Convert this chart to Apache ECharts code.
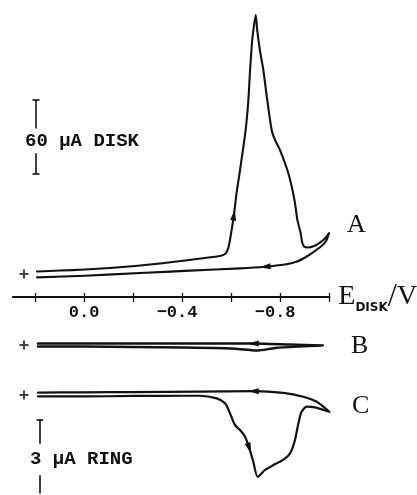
<!DOCTYPE html>
<html>
<head>
<meta charset="utf-8">
<script src="https://cdn.jsdelivr.net/npm/echarts@6/dist/echarts.min.js"></script>
<style>
  html, body { margin: 0; padding: 0; background: #fff; }
  #chart { width: 417px; height: 495px; }
</style>
</head>
<body>
<div id="chart"></div>
<script>
// ---- Potential axis (V). The scan runs from +0.2 V to -1.0 V and back.
const E_TICKS = [0.2, 0.0, -0.2, -0.4, -0.6, -0.8, -1.0];
const E_LABELS = [0.0, -0.4, -0.8];
const E_MIN = -1.0;
const E_MAX = 0.29;

// ---- Trace A: disk current (µA), [E, I] in scan order
const scanA = [
  [0.192, 2.0], [0.098, 2.8], [-0.004, 3.6], [-0.106, 4.9], [-0.208, 6.5],
  [-0.310, 8.5], [-0.412, 11.0], [-0.493, 13.0], [-0.554, 14.6], [-0.575, 16.2],
  [-0.587, 20.3], [-0.595, 27.6], [-0.603, 37.3], [-0.611, 47.8], [-0.622, 65.7],
  [-0.636, 84.3], [-0.659, 116.8], [-0.670, 141.1], [-0.677, 165.4], [-0.684, 185.7],
  [-0.689, 195.4], [-0.700, 210.0], [-0.706, 197.8], [-0.717, 181.6], [-0.731, 165.4],
  [-0.747, 141.1], [-0.765, 116.8], [-0.779, 108.6], [-0.799, 100.5], [-0.829, 84.3],
  [-0.847, 70.8], [-0.860, 57.6], [-0.870, 43.8], [-0.883, 33.2], [-0.889, 25.9],
  [-0.897, 22.3], [-0.913, 21.5], [-0.938, 22.7], [-0.962, 25.5], [-0.982, 28.8],
  [-0.999, 33.2],
  // reverse scan
  [-0.987, 26.8], [-0.966, 22.3], [-0.938, 18.2], [-0.905, 13.8], [-0.868, 10.1],
  [-0.819, 7.7], [-0.738, 5.9], [-0.636, 4.6], [-0.432, 2.7], [-0.228, 0.8],
  [-0.004, -1.4], [0.192, -2.7]
];
const arrowsA = [13, 47];

// ---- Trace B: disk current (µA)
const scanB = [
  [0.188, -1.2], [0.0, -1.2], [-0.2, -1.6], [-0.4, -2.0], [-0.6, -2.8],
  [-0.677, -4.1], [-0.705, -4.5], [-0.779, -2.4], [-0.88, -1.2], [-0.974, -0.4],
  // reverse scan
  [-0.974, 0.0], [-0.84, 0.4], [-0.69, 1.2], [-0.4, 1.2], [-0.2, 1.2],
  [0.0, 1.2], [0.188, 1.2]
];
const arrowsB = [12];

// ---- Trace C: ring current (µA)
const scanC = [
  [0.188, -0.06], [0.0, -0.06], [-0.2, -0.04], [-0.4, -0.03], [-0.473, -0.03],
  [-0.541, -0.14], [-0.575, -0.34], [-0.595, -0.75], [-0.615, -1.23], [-0.636, -1.44],
  [-0.656, -1.71], [-0.674, -2.19], [-0.690, -2.74], [-0.708, -3.36], [-0.738, -3.08],
  [-0.772, -2.88], [-0.812, -2.67], [-0.840, -2.40], [-0.860, -1.85], [-0.874, -1.16],
  [-0.887, -0.69], [-0.908, -0.48], [-0.942, -0.51], [-0.969, -0.59], [-1.0, -0.69],
  // reverse scan
  [-0.949, -0.28], [-0.894, -0.07], [-0.812, 0.09], [-0.690, 0.16], [-0.473, 0.14],
  [-0.2, 0.12], [0.0, 0.11], [0.188, 0.10]
];
const arrowsC = [11, 28];

// ---- Scale bars (µA) and zero-current marks
const DISK_SCALE = 60;
const RING_SCALE = 3;
const ZERO_MARK_E = 0.245;

// ---- Layout (pixels)
const W = 417;
const X_AT_02 = 35, PX_PER_V = 245.25;
const gridLeft = X_AT_02 - (E_MAX - 0.2) * PX_PER_V;
const gridRight = W - (X_AT_02 + (0.2 - E_MIN) * PX_PER_V);
const K_DISK = 74 / DISK_SCALE;   // px per µA (disk)
const K_RING = 73 / RING_SCALE;   // px per µA (ring)

function band(top, bottom, zeroY, k) {
  return { top: top, height: bottom - top, min: -(bottom - zeroY) / k, max: (zeroY - top) / k };
}
const bandA = band(2, 297, 274, K_DISK);
const bandB = band(325, 365, 345, K_DISK);
const bandC = band(368, 495, 395, K_RING);

const INK = '#111';

function gridBox(b) {
  return { left: gridLeft, right: gridRight, top: b.top, height: b.height,
           containLabel: false, outerBoundsMode: 'none' };
}
function hiddenX(gi) {
  return { type: 'value', gridIndex: gi, inverse: true, min: E_MIN, max: E_MAX, show: false };
}
function hiddenY(gi, b) {
  return { type: 'value', gridIndex: gi, min: b.min, max: b.max, show: false };
}

// I-shaped scale bar, broken in the middle for its caption
function scaleBar(E, top, bottom, gapTop, gapBottom, serif, bottomSerif) {
  const segs = [
    [{ coord: [E + serif, top] }, { coord: [E - serif, top] }],
    [{ coord: [E, top] }, { coord: [E, gapTop] }],
    [{ coord: [E, gapBottom] }, { coord: [E, bottom] }]
  ];
  if (bottomSerif) segs.push([{ coord: [E + serif, bottom] }, { coord: [E - serif, bottom] }]);
  return {
    silent: true, symbol: ['none', 'none'], label: { show: false },
    emphasis: { disabled: true }, animation: false,
    lineStyle: { color: INK, width: 1.6, type: 'solid' },
    data: segs
  };
}

// small "+" marking zero current for each trace
const plusPath = 'path://M0,3.1H8V4.9H0Z M3.1,0H4.9V8H3.1Z';

function traceSeries(data, xi, yi, width) {
  return {
    type: 'line', xAxisIndex: xi, yAxisIndex: yi, data: data.slice(),
    symbol: 'none', showSymbol: true, clip: false, smooth: 0.25,
    lineStyle: { color: INK, width: width, join: 'round', cap: 'round' },
    itemStyle: { color: INK }, emphasis: { disabled: true }, silent: true
  };
}

const chart = echarts.init(document.getElementById('chart'), null, { renderer: 'canvas' });

const option = {
  animation: false,
  backgroundColor: '#fff',
  grid: [gridBox(bandA), gridBox(bandB), gridBox(bandC)],
  xAxis: [
    {
      type: 'value', gridIndex: 0, inverse: true, min: E_MIN, max: E_MAX, position: 'bottom',
      axisLine: { show: true, onZero: false, lineStyle: { color: INK, width: 2 } },
      axisTick: { show: true, customValues: E_TICKS, inside: false, length: 5, lineStyle: { color: INK, width: 1.3 } },
      axisLabel: {
        show: true, customValues: E_LABELS, margin: 7,
        fontFamily: 'Liberation Mono', fontSize: 17, fontWeight: 'bold', color: INK,
        formatter: function (v) {
          return Math.abs(v) < 1e-9 ? '0.0' : '\u2212' + Math.abs(v).toFixed(1) + ' ';
        }
      },
      splitLine: { show: false },
      // the axis runs reversed, so its "start" is the right-hand (most negative) end
      name: '{e|E}{d|DISK}{s|/}{v|V}',
      nameLocation: 'start', nameGap: 9,
      nameTextStyle: {
        color: INK, align: 'left', verticalAlign: 'middle',
        rich: {
          e: { fontFamily: 'Liberation Serif', fontSize: 28, color: INK },
          d: { fontFamily: 'DejaVu Sans', fontWeight: 'bold', fontSize: 12, color: INK, verticalAlign: 'bottom' },
          s: { fontFamily: 'Liberation Serif', fontSize: 33, color: INK },
          v: { fontFamily: 'Liberation Serif', fontSize: 28, color: INK }
        }
      }
    },
    {
      type: 'value', gridIndex: 0, inverse: true, min: E_MIN, max: E_MAX, position: 'bottom',
      axisLine: { show: false, onZero: false },
      axisTick: { show: true, customValues: E_TICKS, inside: true, length: 4, lineStyle: { color: INK, width: 1.3 } },
      axisLabel: { show: false },
      splitLine: { show: false }
    },
    hiddenX(1),
    hiddenX(2)
  ],
  yAxis: [hiddenY(0, bandA), hiddenY(1, bandB), hiddenY(2, bandC)],
  graphic: [
    { type: 'text', left: 25, top: 132, silent: true,
      style: { text: '60 \u00b5A DISK', font: 'bold 19px "Liberation Mono"', fill: INK } },
    { type: 'text', left: 30, top: 449.5, silent: true,
      style: { text: '3 \u00b5A RING', font: 'bold 19px "Liberation Mono"', fill: INK } },
    { type: 'text', left: 347, top: 212, silent: true,
      style: { text: 'A', font: '26px "Liberation Serif"', fill: INK } },
    { type: 'text', left: 351, top: 333, silent: true,
      style: { text: 'B', font: '26px "Liberation Serif"', fill: INK } },
    { type: 'text', left: 352, top: 393, silent: true,
      style: { text: 'C', font: '26px "Liberation Serif"', fill: INK } }
  ],
  series: [
    traceSeries(scanA, 0, 0, 2.1),
    traceSeries(scanB, 2, 1, 2.4),
    traceSeries(scanC, 3, 2, 2.2),
    { // zero-current mark and disk scale bar
      type: 'scatter', xAxisIndex: 0, yAxisIndex: 0, data: [[ZERO_MARK_E, 0]],
      symbol: plusPath, symbolSize: 9, itemStyle: { color: INK }, silent: true,
      markLine: scaleBar(0.196, 141.1, 141.1 - DISK_SCALE, 118, 98, 0.0143, true)
    },
    { type: 'scatter', xAxisIndex: 2, yAxisIndex: 1, data: [[ZERO_MARK_E, 0]],
      symbol: plusPath, symbolSize: 9, itemStyle: { color: INK }, silent: true },
    { // zero-current mark and ring scale bar
      type: 'scatter', xAxisIndex: 3, yAxisIndex: 2, data: [[ZERO_MARK_E, 0]],
      symbol: plusPath, symbolSize: 9, itemStyle: { color: INK }, silent: true,
      markLine: scaleBar(0.18, -1.0, -1.0 - RING_SCALE - 0.05, -2.0, -3.3, 0.0135, false)
    }
  ]
};

chart.setOption(option);

// Direction arrows: oriented along the local tangent of the trace
function withArrows(seriesIndex, data, arrowIdx) {
  return data.map(function (p, i) {
    if (arrowIdx.indexOf(i) < 0) return p;
    const a = chart.convertToPixel({ seriesIndex: seriesIndex }, data[Math.max(0, i - 1)]);
    const b = chart.convertToPixel({ seriesIndex: seriesIndex }, data[Math.min(data.length - 1, i + 1)]);
    const dx = b[0] - a[0], dy = b[1] - a[1];
    const rot = Math.atan2(-dx, -dy) * 180 / Math.PI;
    return { value: p, symbol: 'triangle', symbolSize: [6, 11], symbolRotate: rot };
  });
}

chart.setOption({
  series: [
    { data: withArrows(0, scanA, arrowsA) },
    { data: withArrows(1, scanB, arrowsB) },
    { data: withArrows(2, scanC, arrowsC) }
  ]
});
</script>
</body>
</html>
